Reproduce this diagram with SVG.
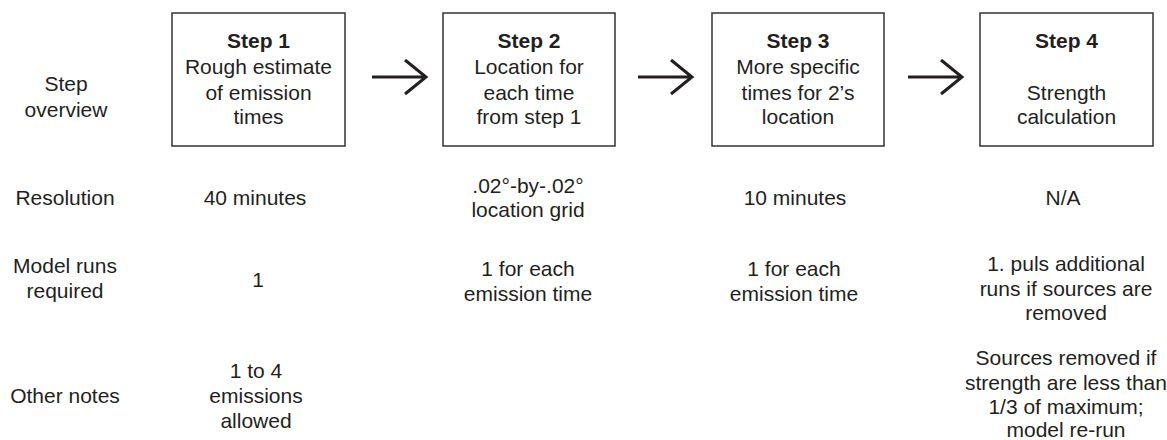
<svg xmlns="http://www.w3.org/2000/svg" width="1167" height="440" viewBox="0 0 1167 440">
<style>
text{font-family:"Liberation Sans",Arial,sans-serif;font-size:21px;fill:#231f20;text-anchor:middle}
.b{font-weight:bold}
.box{fill:#fff;stroke:#333;stroke-width:1.5}
.arr{fill:none;stroke:#231f20;stroke-width:3}
</style>
<rect width="1167" height="440" fill="#fff"/>
<g id="row-labels">
<text x="66" y="91">Step</text>
<text x="66" y="117">overview</text>
<text x="65" y="205">Resolution</text>
<text x="65" y="273">Model runs</text>
<text x="65" y="298">required</text>
<text x="65" y="403">Other notes</text>
</g>
<g id="step1">
<rect class="box" x="172" y="13" width="173" height="133"/>
<text class="b" x="258.5" y="48">Step 1</text>
<text x="258.5" y="74">Rough estimate</text>
<text x="258.5" y="100">of emission</text>
<text x="258.5" y="124">times</text>
<text x="255" y="205">40 minutes</text>
<text x="258" y="287">1</text>
<text x="256" y="378">1 to 4</text>
<text x="256" y="403">emissions</text>
<text x="256" y="428">allowed</text>
</g>
<g id="step2">
<rect class="box" x="443" y="13" width="172" height="133"/>
<text class="b" x="529" y="48">Step 2</text>
<text x="529" y="74">Location for</text>
<text x="529" y="100">each time</text>
<text x="529" y="124">from step 1</text>
<text x="528" y="193">.02°-by-.02°</text>
<text x="528" y="217">location grid</text>
<text x="528" y="276">1 for each</text>
<text x="528" y="301">emission time</text>
</g>
<g id="step3">
<rect class="box" x="712" y="13" width="172" height="133"/>
<text class="b" x="798" y="48">Step 3</text>
<text x="798" y="74">More specific</text>
<text x="798" y="100">times for 2’s</text>
<text x="798" y="124">location</text>
<text x="795" y="205">10 minutes</text>
<text x="794" y="276">1 for each</text>
<text x="794" y="301">emission time</text>
</g>
<g id="step4">
<rect class="box" x="980" y="13" width="173" height="133"/>
<text class="b" x="1066.5" y="48">Step 4</text>
<text x="1066.5" y="100">Strength</text>
<text x="1066.5" y="124">calculation</text>
<text x="1063" y="205">N/A</text>
<text x="1066" y="271">1. puls additional</text>
<text x="1066" y="296">runs if sources are</text>
<text x="1066" y="320">removed</text>
<text x="1066" y="365">Sources removed if</text>
<text x="1066" y="390">strength are less than</text>
<text x="1066" y="414">1/3 of maximum;</text>
<text x="1066" y="437">model re-run</text>
</g>
<g id="connectors">
<path class="arr" d="M372 77H426M405 60L426 77L405 94"/>
<path class="arr" d="M638 77H692M671 60L692 77L671 94"/>
<path class="arr" d="M908 77H962M941 60L962 77L941 94"/>
</g>
</svg>
